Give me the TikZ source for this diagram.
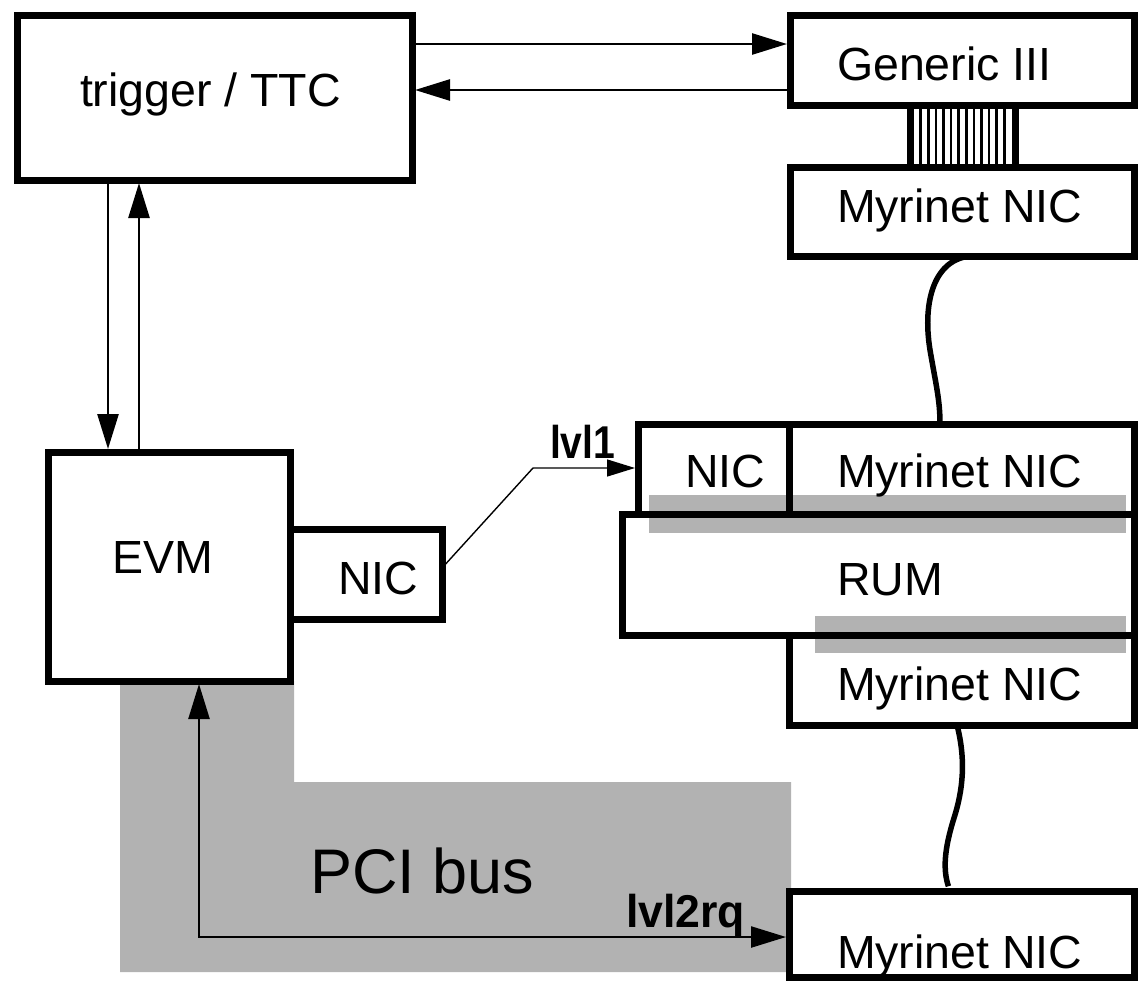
\documentclass[tikz,border=0pt]{standalone}
\usepackage{fontspec}
\usepackage{graphicx}
\setmainfont{Liberation Sans}
\usetikzlibrary{arrows.meta}
\definecolor{busgray}{gray}{0.70}
\begin{document}
\begin{tikzpicture}[x=1pt,y=-1pt,
  box/.style={draw, line width=7pt, inner sep=0pt, outer sep=0pt, rectangle},
  lab/.style={anchor=base west, inner sep=0pt, outer sep=0pt, font=\fontsize{46.5}{50}\selectfont},
  boldlab/.style={anchor=base west, inner sep=0pt, outer sep=0pt, font=\fontsize{46}{50}\selectfont\bfseries},
  biglab/.style={anchor=base west, inner sep=0pt, outer sep=0pt, font=\fontsize{63}{70}\selectfont},
  arr/.style={line width=2.6pt, -{Triangle[length=35pt,width=21pt]}, shorten >=3pt},
  thinarr/.style={line width=1.4pt, -{Triangle[length=28pt,width=17pt]}, shorten >=3pt},
  cable/.style={line width=5.5pt},
  bus/.style={fill=busgray, draw=none},
  stripe/.style={line width=2.6pt}]

\useasboundingbox (0,0) rectangle (1138,983);

% grey bus areas
\fill[bus] (120,681) -- (294,681) -- (294,782) -- (791,782) -- (791,972) -- (120,972) -- cycle;
\fill[bus] (649,495) rectangle (1126,533);
\fill[bus] (815,616) rectangle (1126,653);

% boxes
\node[box, minimum width=395, minimum height=165] (trig)   at (214.5,97.5) {};
\node[box, minimum width=344, minimum height=90]  (gen)    at (962,60) {};
\node[box, minimum width=344, minimum height=89]  (myr1)   at (962,211.5) {};
\node[box, minimum width=151, minimum height=90]  (midnic) at (713.5,469) {};
\node[box, minimum width=345, minimum height=90]  (myr2)   at (961.5,469) {};
\node[box, minimum width=512, minimum height=121] (rum)    at (878,574.5) {};
\node[box, minimum width=345, minimum height=90]  (myr3)   at (961.5,680) {};
\node[box, minimum width=345, minimum height=86]  (myr4)   at (961.5,934) {};
\node[box, minimum width=242, minimum height=229] (evm)    at (169,566.5) {};
\node[box, minimum width=152, minimum height=90]  (enic)   at (366,574) {};

% labels
\node[lab] (ttrig)   at (80,106)  {trigger / TTC};
\node[lab] (tgen)    at (837,80)  {Generic III};
\node[lab] (tmyr1)   at (837,222) {Myrinet NIC};
\node[lab] (tmidnic) at (685,487) {NIC};
\node[lab] (tmyr2)   at (837,487) {Myrinet NIC};
\node[lab] (trum)    at (837,595) {RUM};
\node[lab] (tmyr3)   at (837,700) {Myrinet NIC};
\node[lab] (tmyr4)   at (837,968) {Myrinet NIC};
\node[lab] (tevm)    at (112,573) {EVM};
\node[lab] (tenic)   at (338,594) {NIC};
\node[biglab] (tpci) at (310,893) {PCI bus};
\node[boldlab] (tl1) at (550,458) {\scalebox{0.85}[1]{lvl1}};
\node[boldlab] (tl2) at (626,927) {\scalebox{0.97}[1]{lvl2rq}};

% flat cable between Generic III and Myrinet NIC
\fill (907,105) rectangle (914,167);
\fill (1012,105) rectangle (1019,167);
\foreach \i in {1,...,12} {\draw[stripe] ({913+\i*7.6},105) -- ({913+\i*7.6},167);}

% horizontal arrows trigger <-> Generic
\coordinate (a1) at (600,44);
\coordinate (a2) at (600,90);
\draw[arr] (trig.east |- a1) -- (gen.west |- a1);
\draw[arr] (gen.west |- a2) -- (trig.east |- a2);

% vertical arrows trigger <-> EVM
\coordinate (v1) at (108,0);
\coordinate (v2) at (139,0);
\draw[arr] (trig.south -| v1) -- (evm.north -| v1);
\draw[arr] (evm.north -| v2) -- (trig.south -| v2);

% lvl1
\coordinate (s1) at (0,568);
\coordinate (k1) at (533,468);
\draw[thinarr] (enic.east |- s1) -- (k1) -- (midnic.west |- k1);

% cables
\coordinate (c1) at (972,0);
\coordinate (c2) at (940,0);
\draw[cable] (myr1.south -| c1) .. controls (935,258) and (922,300) .. (930,350)
             .. controls (936,385) and (940,400) .. (myr2.north -| c2);
\coordinate (c3) at (957,0);
\coordinate (c4) at (950,0);
\draw[cable, shorten >=5pt] (myr3.south -| c3) .. controls (966,760) and (963,790) .. (954,818)
             .. controls (944,850) and (943,870) .. (myr4.north -| c4);

% PCI bus arrow (EVM <-> lvl2rq)
\coordinate (pc) at (199,937);
\draw[line width=2.4pt, {Triangle[length=35pt,width=21pt]}-{Triangle[length=35pt,width=21pt]}, shorten <=3pt, shorten >=3pt]
  (evm.south -| pc) -- (pc) -- (myr4.west |- pc);
\end{tikzpicture}
\end{document}
